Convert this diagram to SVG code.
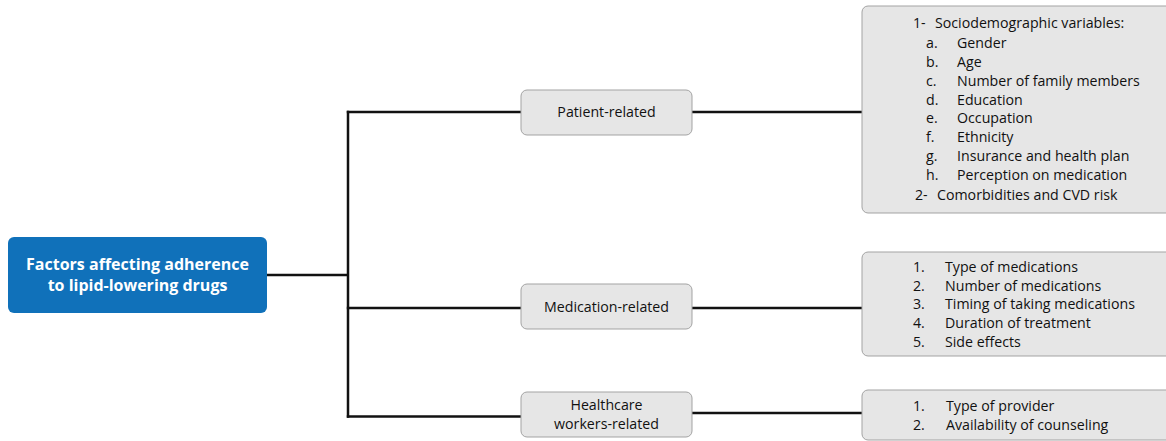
<svg xmlns="http://www.w3.org/2000/svg" width="1166" height="441" viewBox="0 0 1166 441">
<style>
.conn{stroke:#111;stroke-width:2.5;fill:none}
.gbox{fill:#e6e6e6;stroke:#a3a3a3;stroke-width:1}
.t{font-family:"Open Sans","Noto Sans","DejaVu Sans",sans-serif;font-size:14.2px;fill:#111}
.mid{text-anchor:middle}
.title{font-family:"Open Sans","Noto Sans","DejaVu Sans",sans-serif;font-size:16px;font-weight:bold;fill:#fff;text-anchor:middle}
</style>
<rect width="1166" height="441" fill="#fff"/>
<g id="connectors">
<path class="conn" d="M266 275 H348"/>
<path class="conn" d="M348 110.8 V417.7"/>
<path class="conn" d="M346.8 112 H521"/>
<path class="conn" d="M346.8 308 H521"/>
<path class="conn" d="M346.8 416.5 H521"/>
<path class="conn" d="M692 112 H862"/>
<path class="conn" d="M692 308 H862"/>
<path class="conn" d="M692 413 H862"/>
</g>
<g id="root">
<rect x="8" y="237" width="259" height="76" rx="6" fill="#1071ba"/>
<text class="title" x="137.5" y="270">Factors affecting adherence</text>
<text class="title" x="137.5" y="291">to lipid-lowering drugs</text>
</g>
<g id="patient">
<rect class="gbox" x="521" y="90" width="171" height="45" rx="6"/>
<text class="t mid" x="606.5" y="117">Patient-related</text>
</g>
<g id="medication">
<rect class="gbox" x="521" y="284" width="171" height="45" rx="6"/>
<text class="t mid" x="606.5" y="312">Medication-related</text>
</g>
<g id="healthcare">
<rect class="gbox" x="521" y="392" width="171" height="45" rx="6"/>
<text class="t mid" x="606.5" y="410">Healthcare</text>
<text class="t mid" x="606.5" y="429">workers-related</text>
</g>
<g id="patient-factors">
<rect class="gbox" x="862" y="6" width="312" height="207" rx="6"/>
<text class="t" y="28"><tspan x="913">1-</tspan><tspan x="935">Sociodemographic variables:</tspan></text>
<text class="t" y="48"><tspan x="926">a.</tspan><tspan x="957">Gender</tspan></text>
<text class="t" y="67"><tspan x="926">b.</tspan><tspan x="957">Age</tspan></text>
<text class="t" y="86"><tspan x="926">c.</tspan><tspan x="957">Number of family members</tspan></text>
<text class="t" y="105"><tspan x="926">d.</tspan><tspan x="957">Education</tspan></text>
<text class="t" y="123"><tspan x="926">e.</tspan><tspan x="957">Occupation</tspan></text>
<text class="t" y="142"><tspan x="926">f.</tspan><tspan x="957">Ethnicity</tspan></text>
<text class="t" y="161"><tspan x="926">g.</tspan><tspan x="957">Insurance and health plan</tspan></text>
<text class="t" y="180"><tspan x="926">h.</tspan><tspan x="957">Perception on medication</tspan></text>
<text class="t" y="200"><tspan x="915">2-</tspan><tspan x="937">Comorbidities and CVD risk</tspan></text>
</g>
<g id="medication-factors">
<rect class="gbox" x="862" y="252" width="312" height="104" rx="6"/>
<text class="t" y="272"><tspan x="913">1.</tspan><tspan x="945">Type of medications</tspan></text>
<text class="t" y="291"><tspan x="913">2.</tspan><tspan x="945">Number of medications</tspan></text>
<text class="t" y="309"><tspan x="913">3.</tspan><tspan x="945">Timing of taking medications</tspan></text>
<text class="t" y="328"><tspan x="913">4.</tspan><tspan x="945">Duration of treatment</tspan></text>
<text class="t" y="347"><tspan x="913">5.</tspan><tspan x="945">Side effects</tspan></text>
</g>
<g id="healthcare-factors">
<rect class="gbox" x="862" y="390" width="312" height="50" rx="6"/>
<text class="t" y="411"><tspan x="913">1.</tspan><tspan x="946">Type of provider</tspan></text>
<text class="t" y="430"><tspan x="913">2.</tspan><tspan x="946">Availability of counseling</tspan></text>
</g>
</svg>
